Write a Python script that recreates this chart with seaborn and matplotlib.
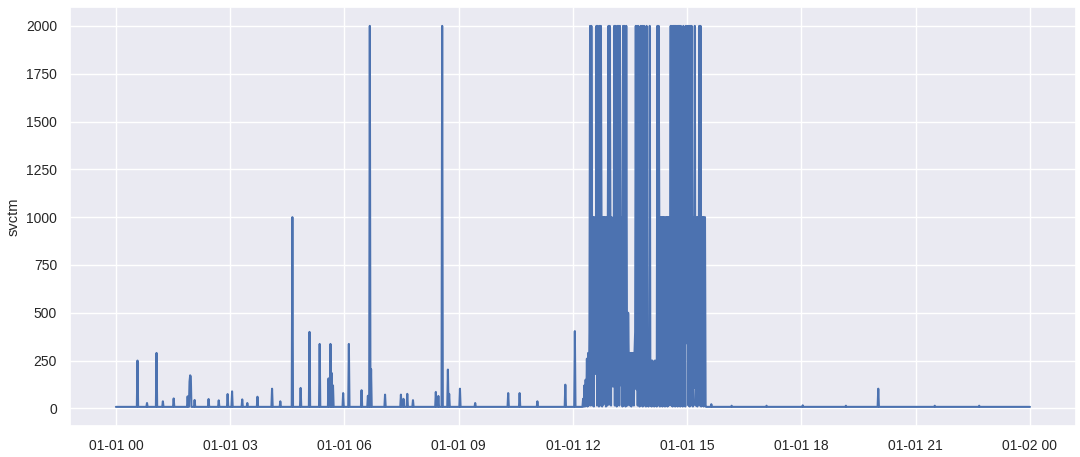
import pandas as pd
import matplotlib.pyplot as plt
import matplotlib.dates as mdates
import seaborn as sns

# -------------------------
# Data
# -------------------------
DAY = "2021-01-01"
BASELINE = 8  # flat level of the quiet periods

# isolated spikes outside the busy window
SPIKE_TIMES = [
    "00:34", "00:49", "01:04", "01:14", "01:31", "01:53", "01:56", "01:57",
    "01:58", "02:04", "02:26", "02:42", "02:56", "03:03", "03:19", "03:27",
    "03:43", "04:06", "04:19", "04:38", "04:51", "05:05", "05:21", "05:35",
    "05:38", "05:40", "05:42", "05:58", "06:07", "06:27", "06:37", "06:40",
    "06:42", "07:04", "07:29", "07:33", "07:39", "07:48", "08:24", "08:28",
    "08:34", "08:43", "08:45", "09:02", "09:26", "10:18", "10:36", "11:04",
    "11:48", "12:03", "15:38", "16:10", "17:05", "18:02", "19:10", "20:01",
    "21:30", "22:40",
]
SPIKE_VALUES = [
    250, 28, 290, 37, 52, 63, 140, 173,
    165, 44, 49, 42, 75, 89, 47, 28,
    61, 103, 37, 1000, 107, 400, 337, 157,
    337, 185, 120, 80, 337, 95, 66, 2000,
    205, 72, 72, 50, 76, 43, 86, 65,
    2000, 203, 76, 103, 28, 80, 80, 37,
    124, 404, 22, 14, 14, 16, 14, 103,
    14, 14,
]

# busy window, one reading per minute starting at BURST_START
BURST_START = "12:16"
BURST_VALUES = [
    50, 10, 120, 10, 150, 15, 260, 10, 290, 15,
    400, 2000, 15, 2000, 1000, 15, 1000, 10, 1000, 180,
    250, 2000, 15, 2000, 1000, 10, 2000, 15, 2000, 1000,
    10, 1000, 20, 1000, 120, 1000, 10, 1000, 15, 1000,
    2000, 20, 2000, 1000, 15, 1000, 115, 300, 115, 2000,
    15, 2000, 1000, 10, 2000, 200, 2000, 15, 2000, 1000,
    120, 1000, 10, 2000, 15, 2000, 500, 10, 2000, 500,
    15, 500, 240, 290, 15, 290, 10, 290, 110, 290,
    15, 290, 400, 2000, 100, 2000, 15, 2000, 250, 10,
    250, 2000, 15, 2000, 10, 250, 2000, 15, 250, 10,
    2000, 15, 250, 10, 250, 2000, 15, 250, 10, 250,
    15, 15, 10, 250, 15, 250, 10, 2000, 15, 2000,
    1000, 10, 1000, 15, 1000, 10, 1000, 15, 1000, 10,
    1000, 15, 1000, 10, 1000, 15, 1000, 680, 2000, 15,
    2000, 10, 2000, 15, 2000, 10, 2000, 15, 2000, 10,
    2000, 15, 2000, 10, 2000, 15, 1000, 10, 2000, 15,
    1000, 10, 2000, 1000, 340, 2000, 15, 2000, 10, 2000,
    15, 2000, 1000, 10, 1000, 107, 2000, 15, 107, 1000,
    10, 1000, 73, 2000, 15, 2000, 10, 1000, 15, 1000,
    10, 1000, 1000, 10, 8,
]

Y_TICKS = [0, 250, 500, 750, 1000, 1250, 1500, 1750, 2000]

# -------------------------
# Build the series
# -------------------------
index = pd.date_range(f"{DAY} 00:00", f"{DAY} 23:59", freq="min").append(
    pd.DatetimeIndex([pd.Timestamp(DAY) + pd.Timedelta(days=1)])
)
s = pd.Series(float(BASELINE), index=index)
for t, v in zip(SPIKE_TIMES, SPIKE_VALUES):
    s[pd.Timestamp(f"{DAY} {t}")] = v
start = s.index.get_loc(pd.Timestamp(f"{DAY} {BURST_START}"))
s.iloc[start:start + len(BURST_VALUES)] = BURST_VALUES

df = s.rename_axis("time").reset_index(name="svctm")

# -------------------------
# Plot
# -------------------------
sns.set_theme(style="darkgrid")
plt.rcParams["font.family"] = ["Liberation Sans", "DejaVu Sans"]

fig, ax = plt.subplots(figsize=(10.8, 4.57), dpi=100)
sns.lineplot(data=df, x="time", y="svctm", estimator=None, ax=ax)

ax.set_yticks(Y_TICKS)
ax.xaxis.set_major_locator(mdates.HourLocator(byhour=range(0, 24, 3)))
ax.xaxis.set_major_formatter(mdates.DateFormatter("%m-%d %H"))
ax.tick_params(labelsize=10)
ax.set_xlabel("")
ax.set_ylabel("svctm", fontsize=10.5)

fig.subplots_adjust(left=0.065, right=0.996, top=0.985, bottom=0.068)
fig.savefig("out.png", dpi=100)
plt.close(fig)
